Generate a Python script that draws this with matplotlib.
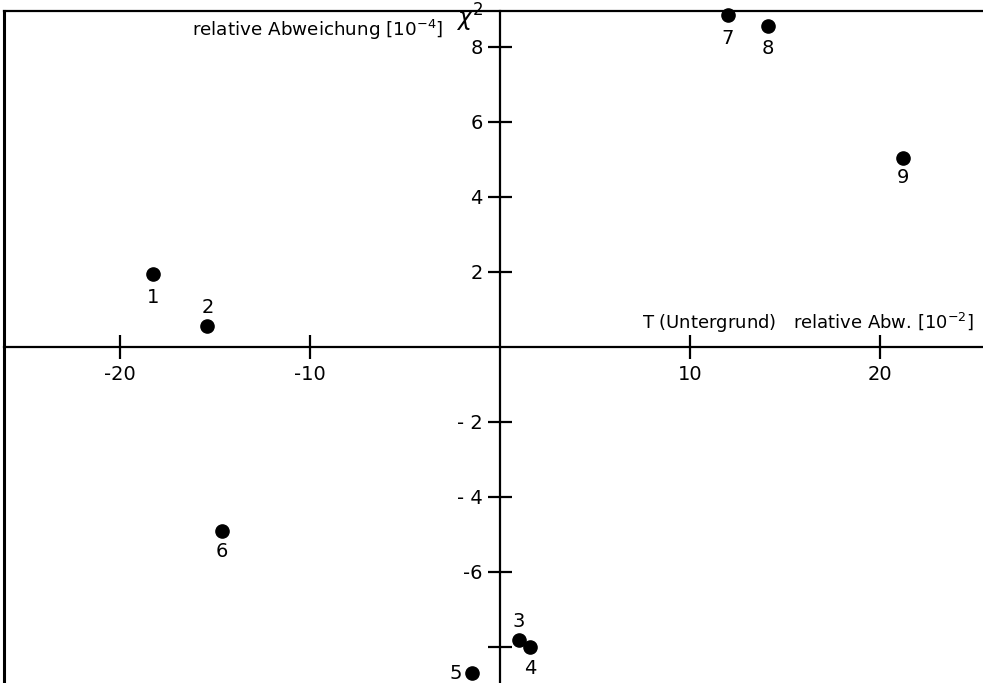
import matplotlib
matplotlib.use("Agg")
import matplotlib.pyplot as plt

plt.rcParams['font.family'] = ['DejaVu Sans']
plt.rcParams['mathtext.fontset'] = 'dejavusans'

# measured points: relative deviation of T (background) vs chi^2 deviation
ids = ["1", "2", "3", "4", "5", "6", "7", "8", "9"]
x_vals = [-18.25, -15.4, 1.0, 1.6, -1.45, -14.65, 12.0, 14.1, 21.2]
y_vals = [1.94, 0.55, -7.82, -8.0, -8.71, -4.91, 8.85, 8.55, 5.02]

x_ticks = [-20, -10, 10, 20]
x_ticklabels = ["-20", "-10", "10", "20"]
y_ticks = [-8, -6, -4, -2, 2, 4, 6, 8]
y_ticklabels = ["", "-6", "- 4", "- 2", "2", "4", "6", "8"]

# where each number sits relative to its dot (points)
label_offsets = {
    "1": (0, -17), "2": (0, 13), "3": (0, 13), "4": (0, -16), "5": (-12, 0),
    "6": (0, -15), "7": (0, -17), "8": (0, -16), "9": (0, -14),
}

fig = plt.figure(figsize=(9.83, 6.83), dpi=100)
ax = fig.add_axes([4 / 983, 0, 979 / 983, 672 / 683])
ax.set_xlim(-26.1, 25.42)
ax.set_ylim(-8.97, 8.95)

# axes crossing at the origin, frame only on top and left
ax.spines['left'].set_position(('data', 0))
ax.spines['bottom'].set_position(('data', 0))
ax.spines['right'].set_visible(False)
for s in ['left', 'bottom', 'top']:
    ax.spines[s].set_linewidth(1.6)
ax.axvline(-26.1, color='black', lw=2.2, clip_on=False)

ax.set_xticks(x_ticks)
ax.set_xticklabels(x_ticklabels)
ax.set_yticks(y_ticks)
ax.set_yticklabels(y_ticklabels)
ax.tick_params(axis='both', direction='inout', length=17, width=1.6,
               labelsize=14)
ax.tick_params(axis='x', pad=5)
ax.tick_params(axis='y', pad=4)
ax.xaxis.set_ticks_position('bottom')
ax.yaxis.set_ticks_position('left')

ax.plot(x_vals, y_vals, 'o', color='black', ms=9.5, clip_on=False, zorder=5)
for name, xv, yv in zip(ids, x_vals, y_vals):
    dx, dy = label_offsets[name]
    ax.annotate(name, (xv, yv), xytext=(dx, dy), textcoords='offset points',
                ha='center', va='center', fontsize=14)

ax.text(-16.2, 8.45, "relative Abweichung [10$^{-4}$]", fontsize=13.2,
        ha='left', va='center')
ax.text(-2.3, 8.33, r"$\chi^2$", fontsize=17, ha='left', va='bottom')
ax.text(24.95, 0.63, "T (Untergrund)   relative Abw. [10$^{-2}$]", fontsize=13,
        ha='right', va='center')

fig.savefig("out.png", dpi=100)
